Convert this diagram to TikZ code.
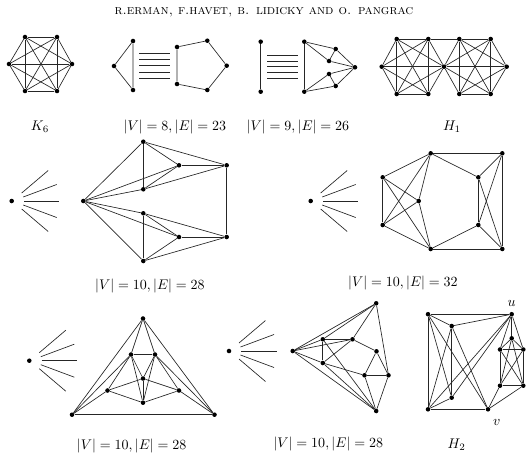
\documentclass[tikz,border=0pt]{standalone}
\usepackage{amsmath}
\tikzset{
  vtx/.style={circle,fill=black,inner sep=0pt,minimum size=3.4pt},
  lbl/.style={inner sep=0pt,scale=1.05},
  gedge/.style={line width=0.5pt,black!85}
}
\newcommand{\fanlines}[1]{%
  \foreach \ax/\ay/\bx/\by in {10/-8/36.5/-30.5, 11.5/-4/45/-16.5, 12.3/0/47.5/0, 11.5/4/45/16.5, 10/8/36.5/30.5}
    \draw[gedge] ([shift={(\ax,\ay)}]#1.center) -- ([shift={(\bx,\by)}]#1.center);%
}
\begin{document}
\begin{tikzpicture}[x=0.75pt,y=-0.75pt]
\useasboundingbox (0,0) rectangle (528,457);
\node[font=\scshape,inner sep=0pt] (title) at (264,12) {r.erman, f.havet, b. lidicky and o. pangrac};

% ---------- K6
\foreach \n/\x/\y in {1/25/37,2/57/37,3/72/64,4/57/91,5/25/91,6/9/64}
  \node[vtx] (k\n) at (\x,\y) {};
\foreach \i in {1,...,6}{\foreach \j in {1,...,6}{\ifnum\i<\j \draw[gedge] (k\i) -- (k\j);\fi}}
\node[lbl] (lk) at (40,127) {$K_6$};

% ---------- |V|=8
\foreach \n/\x/\y in {1/133/41,2/114/66,3/133/90}
  \node[vtx] (ta\n) at (\x,\y) {};
\foreach \n/\x/\y in {1/177/47,2/207.3/40.7,3/226.7/65.7,4/207.3/90,5/177/84}
  \node[vtx] (pa\n) at (\x,\y) {};
\draw[gedge] (ta1) -- (ta2) -- (ta3) -- (ta1);
\draw[gedge] (pa1) -- (pa2) -- (pa3) -- (pa4) -- (pa5) -- (pa1);
\foreach \yy in {53,59.2,65.6,72,78.3}
  \draw[gedge] (139,\yy) -- (170,\yy);
\node[lbl] (l8) at (175,127) {$|V| = 8, |E| = 23$};

% ---------- |V|=9
\node[vtx] (na1) at (260.7,41.7) {};
\node[vtx] (na2) at (260.7,91.7) {};
\draw[gedge] (na1) -- (na2);
\foreach \yy in {55,61,66.8,72.7,78.5}
  \draw[gedge] (267,\yy) -- (298,\yy);
\foreach \n/\x/\y in {b1/304.3/41.7,b2/304.3/91.7,c/335.7/49,d/329/61,e/355/67.3,f/329/74,g/335.7/86}
  \node[vtx] (n\n) at (\x,\y) {};
\draw[gedge] (nb1) -- (nb2);
\draw[gedge] (nb1) -- (nc) -- (ne) -- (nd) -- (nb1);
\draw[gedge] (nc) -- (nd);
\draw[gedge] (nb2) -- (ng) -- (ne) -- (nf) -- (nb2);
\draw[gedge] (nf) -- (ng);
\node[lbl] (l9) at (298,127) {$|V| = 9, |E| = 26$};

% ---------- H1
\foreach \n/\x/\y in {1/396.7/39,2/428.3/39,3/381.7/66.7,4/444/66.7,5/396.7/94,6/428.3/94,7/459.3/39,8/490.7/39,9/506.7/66.7,10/459.3/94,11/490.7/94}
  \node[vtx] (h\n) at (\x,\y) {};
\foreach \i/\j in {1/2,1/3,1/4,1/5,1/6,2/3,2/4,2/5,2/6,3/4,3/5,3/6,4/5,4/6,5/6,
                   7/8,7/9,7/4,7/10,7/11,8/9,8/4,8/10,8/11,9/4,9/10,9/11,4/10,4/11,10/11,2/7}
  \draw[gedge] (h\i) -- (h\j);
\node[lbl] (lh1) at (452,127) {$H_1$};

% ---------- middle left
\node[vtx] (fa) at (11.7,201) {};
\fanlines{fa}
\foreach \n/\x/\y in {L/83.3/201,T/143.3/141.7,M/143.3/189.3,N/143.3/213.3,B/143.3/261,P/179/165.3,Q/179/237,R/226.7/165.3,S/226.7/237}
  \node[vtx] (m\n) at (\x,\y) {};
\foreach \i/\j in {L/T,L/P,L/M,L/N,L/Q,L/B,T/M,T/P,T/R,P/M,P/R,M/R,R/S,N/B,N/Q,N/S,B/Q,B/S,Q/S}
  \draw[gedge] (m\i) -- (m\j);
\node[lbl] (lm1) at (150,286) {$|V| = 10, |E| = 28$};

% ---------- middle right
\node[vtx] (fb) at (310.7,201) {};
\fanlines{fb}
\foreach \n/\x/\y in {A/382.7/177.3,B/382.7/225,C/418.7/201,T/430.7/153.3,U/430.7/249,D/478.3/177.3,E/478.3/225,R/502.3/153.3,S/502.3/249}
  \node[vtx] (r\n) at (\x,\y) {};
\foreach \i/\j in {A/B,A/T,A/C,A/U,B/T,B/C,B/U,C/T,C/U,T/R,T/D,D/R,D/E,D/S,E/R,E/S,E/U,U/S,R/S}
  \draw[gedge] (r\i) -- (r\j);
\node[lbl] (lm2) at (403,283) {$|V| = 10, |E| = 32$};

% ---------- bottom left
\node[vtx] (fc) at (29.3,360.7) {};
\fanlines{fc}
\foreach \n/\x/\y in {T/143/318.5,L/72/414.7,R/214.5/414.7,a/131/354.5,b/155/354.5,c/143/378.5,d/107.5/390.5,e/179/390.5,f/143/402.7}
  \node[vtx] (s\n) at (\x,\y) {};
\foreach \i/\j in {T/L,T/R,L/R,T/a,T/b,a/b,a/c,a/f,b/c,b/f,c/f,a/d,b/e,d/c,d/f,e/c,e/f,L/a,L/d,R/b,R/e}
  \draw[gedge] (s\i) -- (s\j);
\node[lbl] (lb1) at (131.7,445.5) {$|V| = 10, |E| = 28$};

% ---------- bottom middle
\node[vtx] (fd) at (229,351) {};
\fanlines{fd}
\foreach \n/\x/\y in {L/292.7/351,T/376.2/303.3,B/376.2/411,a/322.8/339.3,b/352.5/339.3,c/322.8/363,d/376.5/351.3,e/364.5/375.3,f/388.5/375.3}
  \node[vtx] (w\n) at (\x,\y) {};
\foreach \i/\j in {L/T,L/a,L/b,L/c,L/B,a/T,c/B,a/B,a/b,a/c,c/b,b/T,b/d,d/e,d/f,e/f,e/B,f/B,T/f,c/e}
  \draw[gedge] (w\i) -- (w\j);
\node[lbl] (lb2) at (328.3,444.3) {$|V| = 10, |E| = 28$};

% ---------- H2
\foreach \n/\x/\y in {A/428/314.2,u/511.7/314.2,B/451.7/326,C/451.7/397.7,D/428/409.3,v/488/409.3,p/511.7/338.3,q/500/349.5,r/523.3/349.5,s/500/385.7,t/523.3/385.7}
  \node[vtx] (x\n) at (\x,\y) {};
\foreach \i/\j in {A/u,A/B,A/D,A/C,A/v,B/u,B/C,B/D,B/v,C/D,C/u,D/u,D/v,u/p,u/q,u/r,v/s,v/t,p/q,p/r,q/r,q/s,r/t,s/t,q/t,r/s,p/s,p/t}
  \draw[gedge] (x\i) -- (x\j);
\node[lbl] (lu) at (511.7,303) {$u$};
\node[lbl] (lv) at (496.7,422) {$v$};
\node[lbl] (lh2) at (456.7,445) {$H_2$};
\end{tikzpicture}
\end{document}
